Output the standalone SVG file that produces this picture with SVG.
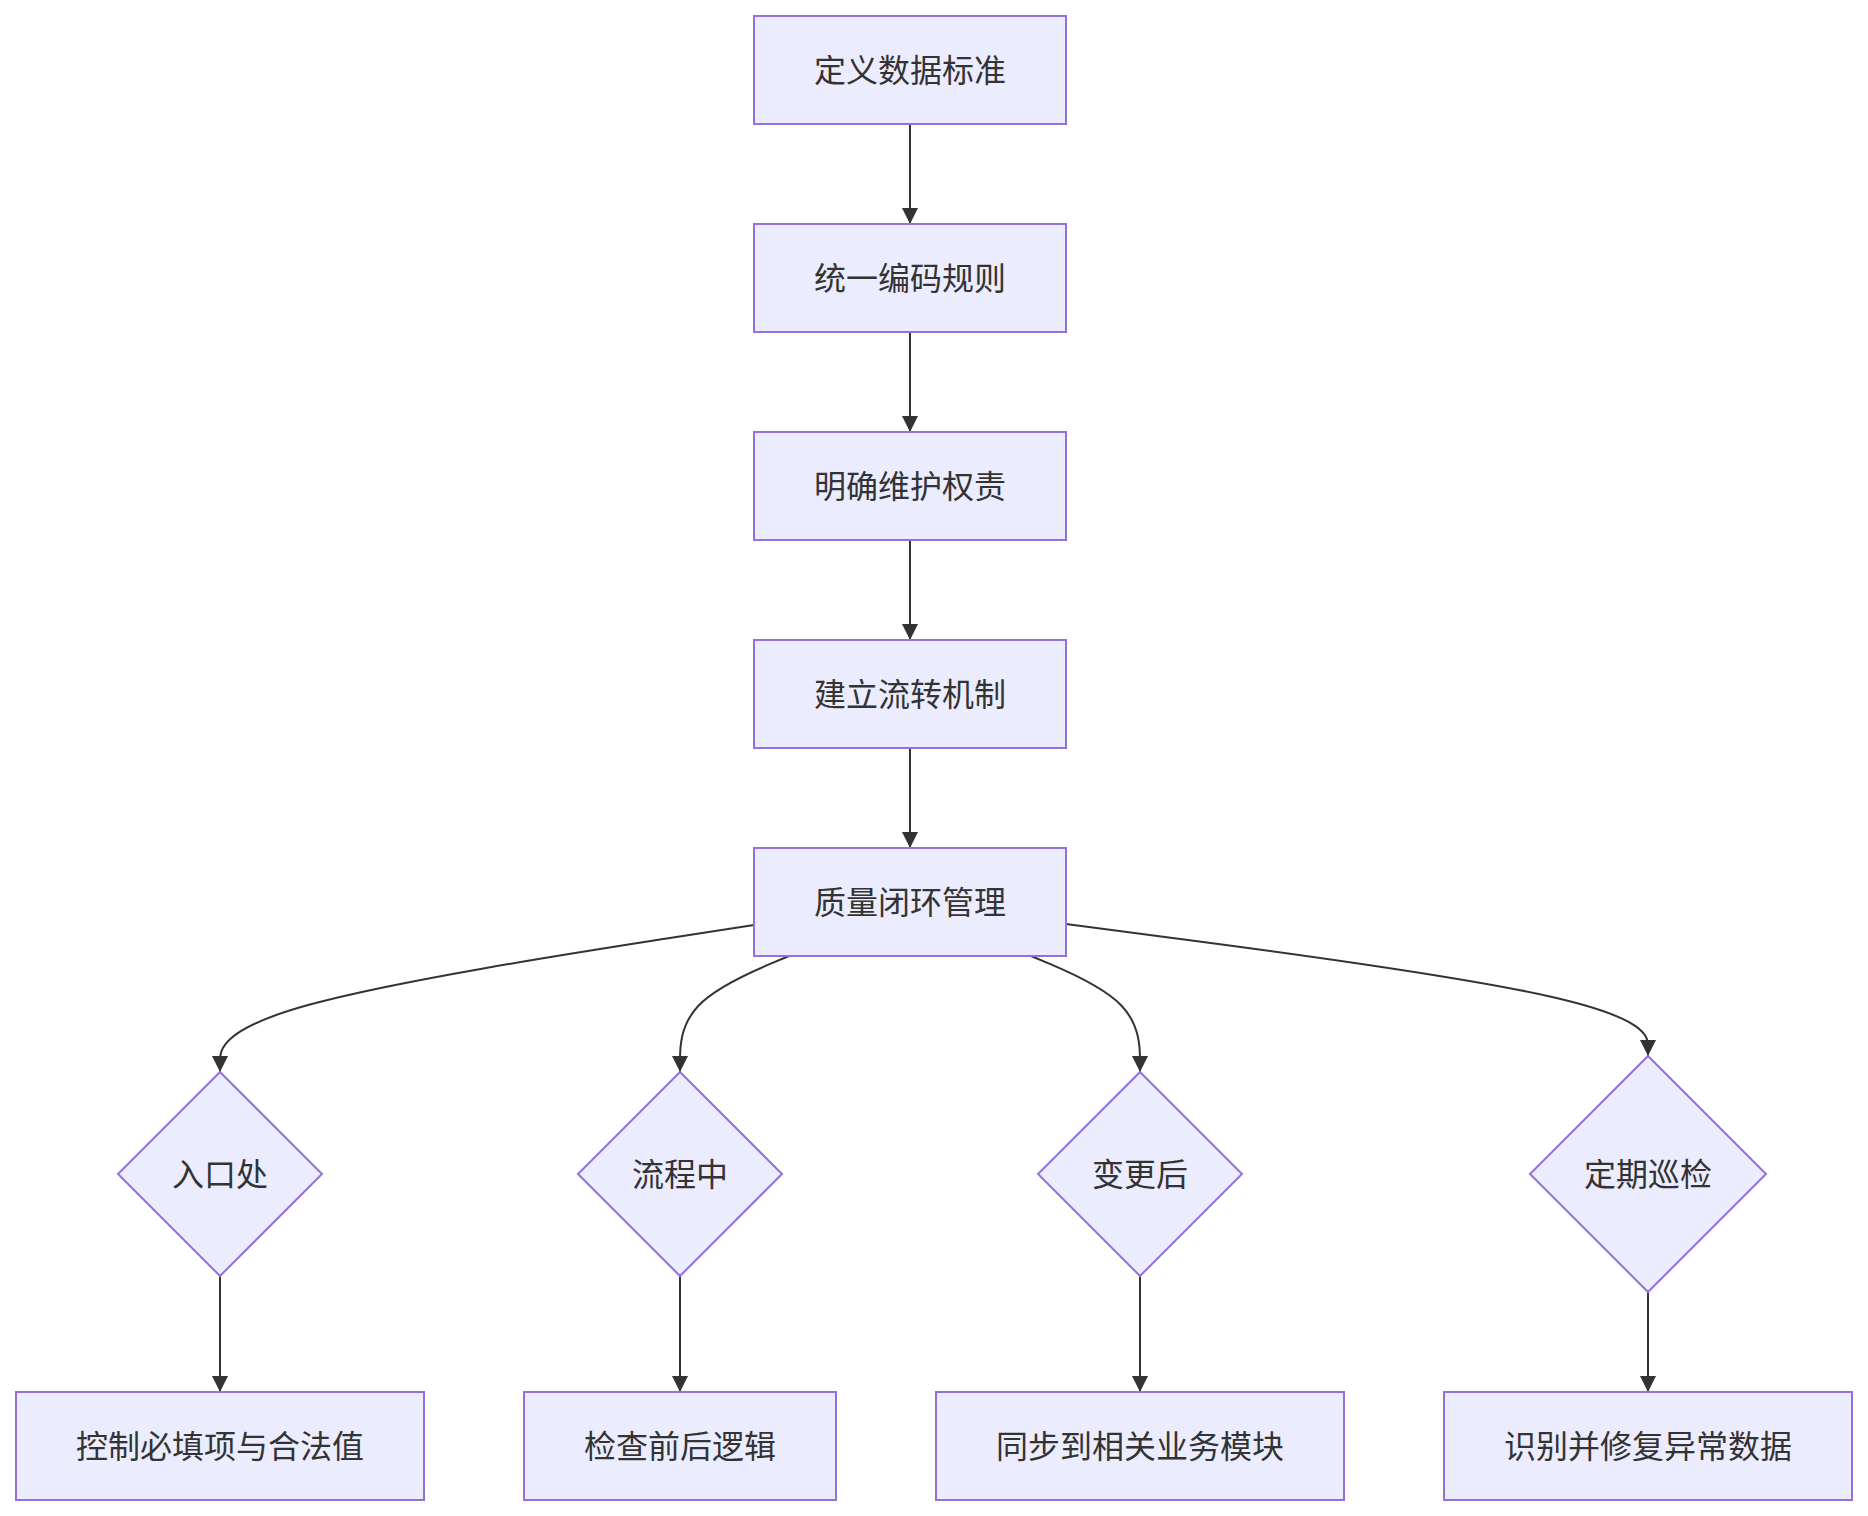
<svg xmlns="http://www.w3.org/2000/svg" width="1868" height="1516" viewBox="0 0 1868 1516">
<style>
.node rect, .node polygon { fill: #ECECFF; stroke: #9370DB; stroke-width: 2; }
.node text { font-family: "Noto Sans CJK SC", "Noto Sans", sans-serif; font-size: 32px; fill: #333333; text-anchor: middle; dominant-baseline: central; }
.edge { fill: none; stroke: #333333; stroke-width: 2; marker-end: url(#arrow); }
</style>
<defs>
<marker id="arrow" viewBox="0 0 10 10" refX="10" refY="5" markerWidth="16" markerHeight="16" markerUnits="userSpaceOnUse" orient="auto">
<path d="M0,0 L10,5 L0,10 z" fill="#333333"/>
</marker>
</defs>
<rect width="1868" height="1516" fill="#ffffff"/>
<g id="connectors">
<path class="edge" d="M910,124 L910,224"/>
<path class="edge" d="M910,332 L910,432"/>
<path class="edge" d="M910,540 L910,640"/>
<path class="edge" d="M910,748 L910,848"/>
<path class="edge" d="M754,925 L665,938.8 C576,952.7 398,980.3 309,1004.8 C220,1029.3 220,1050.7 220,1061.3 L220,1072"/>
<path class="edge" d="M789,956 L770.8,963.7 C752.7,971.3 716.3,986.7 698.2,1006 C680,1025.3 680,1048.7 680,1060.3 L680,1072"/>
<path class="edge" d="M1031,956 L1049.2,963.7 C1067.3,971.3 1103.7,986.7 1121.8,1006 C1140,1025.3 1140,1048.7 1140,1060.3 L1140,1072"/>
<path class="edge" d="M1066,924 L1163,936.7 C1260,949.3 1454,974.7 1551,996.7 C1648,1018.7 1648,1037.3 1648,1046.7 L1648,1056"/>
<path class="edge" d="M220,1276 L220,1392"/>
<path class="edge" d="M680,1276 L680,1392"/>
<path class="edge" d="M1140,1276 L1140,1392"/>
<path class="edge" d="M1648,1292 L1648,1392"/>
</g>
<g id="n1" class="node"><rect x="754" y="16" width="312" height="108"/><text x="910" y="68">定义数据标准</text></g>
<g id="n2" class="node"><rect x="754" y="224" width="312" height="108"/><text x="910" y="276">统一编码规则</text></g>
<g id="n3" class="node"><rect x="754" y="432" width="312" height="108"/><text x="910" y="484">明确维护权责</text></g>
<g id="n4" class="node"><rect x="754" y="640" width="312" height="108"/><text x="910" y="692">建立流转机制</text></g>
<g id="n5" class="node"><rect x="754" y="848" width="312" height="108"/><text x="910" y="900">质量闭环管理</text></g>
<g id="d1" class="node"><polygon points="220,1072 322,1174 220,1276 118,1174"/><text x="220" y="1172">入口处</text></g>
<g id="d2" class="node"><polygon points="680,1072 782,1174 680,1276 578,1174"/><text x="680" y="1172">流程中</text></g>
<g id="d3" class="node"><polygon points="1140,1072 1242,1174 1140,1276 1038,1174"/><text x="1140" y="1172">变更后</text></g>
<g id="d4" class="node"><polygon points="1648,1056 1766,1174 1648,1292 1530,1174"/><text x="1648" y="1172">定期巡检</text></g>
<g id="b1" class="node"><rect x="16" y="1392" width="408" height="108"/><text x="220" y="1444">控制必填项与合法值</text></g>
<g id="b2" class="node"><rect x="524" y="1392" width="312" height="108"/><text x="680" y="1444">检查前后逻辑</text></g>
<g id="b3" class="node"><rect x="936" y="1392" width="408" height="108"/><text x="1140" y="1444">同步到相关业务模块</text></g>
<g id="b4" class="node"><rect x="1444" y="1392" width="408" height="108"/><text x="1648" y="1444">识别并修复异常数据</text></g>
</svg>
